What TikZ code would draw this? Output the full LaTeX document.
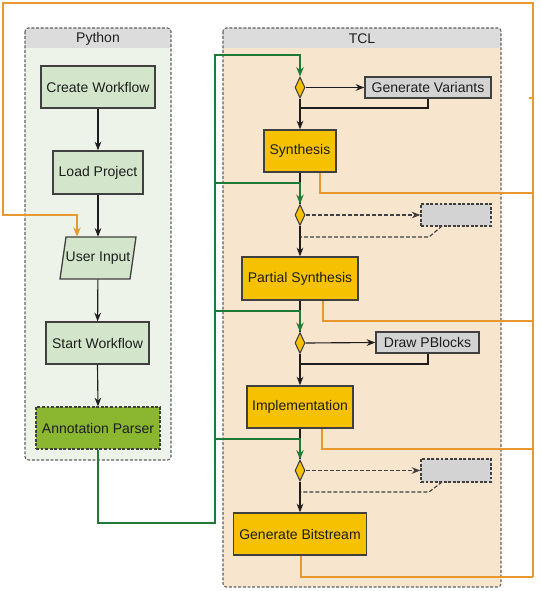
\documentclass[tikz,border=0pt]{standalone}
\usepackage{fontspec}
\setmainfont{Liberation Sans}
\usetikzlibrary{shapes.geometric,arrows.meta}
\definecolor{pybg}{HTML}{EEF3EA}
\definecolor{tclbg}{HTML}{F8E5CE}
\definecolor{hdr}{HTML}{DCDCDC}
\definecolor{pyfill}{HTML}{D3E6CB}
\definecolor{apfill}{HTML}{8AB630}
\definecolor{yel}{HTML}{F6C200}
\definecolor{gbox}{HTML}{D3D3D3}
\definecolor{orng}{HTML}{E8982E}
\definecolor{grn}{HTML}{1F7A38}
\definecolor{bordc}{HTML}{404040}
\definecolor{txt}{HTML}{1E1E1E}
\definecolor{cont}{HTML}{606060}
\tikzset{
  box/.style={draw=bordc, line width=1pt, minimum height=31.5pt, inner sep=0pt, text=txt},
  pybox/.style={box, fill=pyfill},
  ybox/.style={box, fill=yel},
  gybox/.style={box, fill=gbox, minimum height=15.75pt},
  dbox/.style={box, fill=gbox, dashed, dash pattern=on 2.2pt off 1.2pt},
  dec/.style={diamond, draw=bordc, fill=yel, line width=0.8pt, minimum width=7.5pt, minimum height=15.75pt, inner sep=0pt, aspect=0.5},
  arr/.style={draw=txt, line width=0.85pt, -{Stealth[length=6.5pt,width=5pt]}},
  ln/.style={draw=txt, line width=0.85pt},
  dln/.style={draw=bordc, line width=0.85pt, dash pattern=on 3pt off 1.5pt},
  gln/.style={draw=grn, line width=1.2pt},
  garr/.style={gln, -{Stealth[length=7pt,width=5.5pt]}},
  oln/.style={draw=orng, line width=1.1pt},
  oarr/.style={oln, -{Stealth[length=7pt,width=5.5pt]}},
  contb/.style={draw=cont, line width=0.8pt, dash pattern=on 2.2pt off 1.3pt, rounded corners=2.5pt},
}
\begin{document}
\begin{tikzpicture}[x=0.75pt,y=-0.75pt, font=\fontsize{10.5}{12}\selectfont]
\useasboundingbox (0,0) rectangle (540,591);
% containers
\fill[pybg, rounded corners=2.5pt] (25,28) rectangle (171,460);
\fill[hdr, rounded corners=2.5pt] (25,28) rectangle (171,48);
\fill[hdr] (25,38) rectangle (171,48);
\draw[contb] (25,28) rectangle (171,460);
\node[text=txt] (pyt) at (98,39) {Python};
\fill[tclbg, rounded corners=2.5pt] (223,28) rectangle (501,587);
\fill[hdr, rounded corners=2.5pt] (223,28) rectangle (501,48);
\fill[hdr] (223,38) rectangle (501,48);
\draw[contb] (223,28) rectangle (501,587);
\node[text=txt] (tclt) at (362,39) {TCL};

% Python nodes
\node[pybox, minimum width=85.5pt] (cw) at (98,87) {Create Workflow};
\node[pybox, minimum width=67.5pt, minimum height=32.25pt] (lp) at (98,172.5) {Load Project};
\fill[pyfill] (66,237) -- (136,237) -- (130,279) -- (60,279) -- cycle;
\draw[bordc, line width=1pt] (66,237) -- (136,237) -- (130,279) -- (60,279) -- cycle;
\node[text=txt, minimum width=52.5pt, minimum height=31.5pt, inner sep=0pt] (ui) at (98,258) {User Input};
\node[pybox, minimum width=77.25pt] (sw) at (97.5,343) {Start Workflow};
\node[box, fill=apfill, dashed, dash pattern=on 2.2pt off 1.2pt, minimum width=93pt] (ap) at (98,428) {Annotation Parser};

\draw[arr] (cw) -- (lp);
\draw[arr] (lp) -- (ui);
\draw[arr] (ui) -- (sw);
\draw[arr] (sw.south) -- (ap.north);

% TCL nodes
\node[dec] (d1) at (300,87.5) {};
\node[dec] (d2) at (300,215) {};
\node[dec] (d3) at (300,343) {};
\node[dec] (d4) at (300,470.5) {};
\node[ybox, minimum width=54pt] (syn) at (300,151) {Synthesis};
\node[ybox, minimum width=87pt, minimum height=32.25pt] (ps) at (300,278.5) {Partial Synthesis};
\node[ybox, minimum width=79.5pt] (impl) at (300,407) {Implementation};
\node[ybox, minimum width=99.75pt] (gb) at (300,534) {Generate Bitstream};
\node[gybox, minimum width=94.5pt] (gv) at (428,87.5) {Generate Variants};
\node[dbox, minimum width=52.5pt, minimum height=16.5pt] (db1) at (456,215) {};
\node[gybox, minimum width=77.25pt] (pb) at (427.5,342.5) {Draw PBlocks};
\node[dbox, minimum width=52.5pt, minimum height=17.25pt] (db2) at (456,470.5) {};

% black flow
\draw[arr] (d1.east) -- (gv.west);
\coordinate (r1) at (428,108);
\draw[ln] (gv.south -| r1) -- (r1) -- (r1 -| d1.south);
\draw[arr] (d1.south) -- (syn.north);
\draw[ln] (syn.south) -- (d2.north);
\draw[dln, -{Stealth[length=6.5pt,width=5pt]}] (d2.east) -- (db1.west);
\coordinate (r2a) at (442,226);
\coordinate (r2b) at (429,237);
\draw[dln] (r2a) -- (r2b) -- (r2b -| d2.south);
\draw[arr] (d2.south) -- (ps.north);
\draw[ln] (ps.south) -- (d3.north);
\draw[arr] (d3.east) -- (pb.west);
\coordinate (r3) at (428,364);
\draw[ln] (pb.south -| r3) -- (r3) -- (r3 -| d3.south);
\draw[arr] (d3.south) -- (impl.north);
\draw[ln] (impl.south) -- (d4.north);
\draw[dln, -{Stealth[length=6.5pt,width=5pt]}] (d4.east) -- (db2.west);
\coordinate (r4a) at (442,482);
\coordinate (r4b) at (429,492);
\draw[dln] (r4a) -- (r4b) -- (r4b -| d4.south);
\draw[arr] (d4.south) -- (gb.north);

% green
\coordinate (g0) at (98,523);
\coordinate (g1) at (215,523);
\coordinate (g2) at (215,55);
\coordinate (gb2) at (215,183);
\coordinate (gb3) at (215,311);
\coordinate (gb4) at (215,439);
\draw[garr] (ap.south) -- (g0) -- (g1) -- (g2) -| (d1.north);
\draw[garr] (gb2) -| (d2.north);
\draw[garr] (gb3) -| (d3.north);
\draw[garr] (gb4) -| (d4.north);

% orange
\coordinate (o1) at (533,193);
\coordinate (o2) at (533,321);
\coordinate (o3) at (533,449);
\coordinate (o4) at (533,577);
\coordinate (ot) at (533,3);
\coordinate (otl) at (3,3);
\coordinate (obl) at (3,215);
\coordinate (oL) at (77,215);
\coordinate (tk) at (529,98);
\draw[oln] ([xshift=15pt]syn.south) |- (o1);
\draw[oln] ([xshift=17.25pt]ps.south) |- (o2);
\draw[oln] ([xshift=16.5pt]impl.south) |- (o3);
\draw[oln] ([xshift=0.75pt]gb.south) |- (o4);
\draw[oarr] (o4) -- (ot) -- (otl) -- (obl) -- (oL) -- (oL |- ui.north);
\draw[oln] (tk) -- (tk -| ot);
\end{tikzpicture}
\end{document}
